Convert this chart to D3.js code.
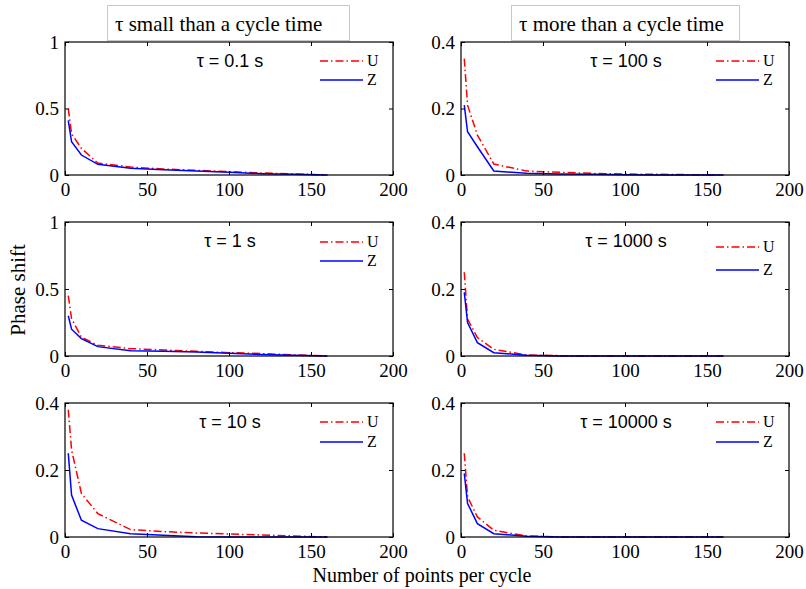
<!DOCTYPE html>
<html>
<head>
<meta charset="utf-8">
<script src="https://cdn.jsdelivr.net/npm/d3@7"></script>
<style>
  body { margin: 0; background: #fff; }
  svg { display: block; }
</style>
</head>
<body>
<div id="chart"></div>
<script>

  /**
   * Data
   */

  const pointsPerCycle = [2, 4, 10, 20, 40, 60, 80, 100, 120, 140, 160];

  const tauLabels = ['τ = 0.1 s', 'τ = 100 s', 'τ = 1 s', 'τ = 1000 s', 'τ = 10 s', 'τ = 10000 s'];
  const columnTitles = ['τ small than a cycle time', 'τ more than a cycle time'];
  const seriesNames = ['U', 'Z'];

  const uTau01    = [0.50, 0.31, 0.20, 0.09, 0.06, 0.045, 0.035, 0.025, 0.015, 0.008, 0];
  const zTau01    = [0.41, 0.25, 0.15, 0.08, 0.05, 0.04, 0.03, 0.02, 0.01, 0.005, 0];
  const uTau100   = [0.35, 0.21, 0.12, 0.033, 0.012, 0.008, 0.005, 0.003, 0.002, 0.001, 0];
  const zTau100   = [0.21, 0.13, 0.085, 0.012, 0.005, 0.003, 0.002, 0.001, 0, 0, 0];
  const uTau1     = [0.45, 0.28, 0.14, 0.08, 0.055, 0.045, 0.035, 0.025, 0.018, 0.008, 0];
  const zTau1     = [0.30, 0.20, 0.13, 0.07, 0.04, 0.035, 0.03, 0.02, 0.012, 0.005, 0];
  const uTau1000  = [0.25, 0.11, 0.055, 0.02, 0.003, 0.001, 0, 0, 0, 0, 0];
  const zTau1000  = [0.19, 0.10, 0.04, 0.01, 0.002, 0, 0, 0, 0, 0, 0];
  const uTau10    = [0.38, 0.26, 0.13, 0.07, 0.022, 0.016, 0.012, 0.009, 0.006, 0.003, 0];
  const zTau10    = [0.25, 0.125, 0.05, 0.025, 0.01, 0.005, 0.001, 0, 0, 0, 0];
  const uTau10000 = [0.25, 0.12, 0.06, 0.02, 0.003, 0, 0, 0, 0, 0, 0];
  const zTau10000 = [0.19, 0.10, 0.04, 0.01, 0.002, 0, 0, 0, 0, 0, 0];

  const xTicks = [0, 50, 100, 150, 200];
  const yTicksWide = [0, 0.5, 1];
  const yTicksNarrow = [0, 0.2, 0.4];

  // panels in reading order: row by row, left column first
  const panels = [
    { u: uTau01,    z: zTau01,    yMax: 1,   yTicks: yTicksWide },
    { u: uTau100,   z: zTau100,   yMax: 0.4, yTicks: yTicksNarrow },
    { u: uTau1,     z: zTau1,     yMax: 1,   yTicks: yTicksWide },
    { u: uTau1000,  z: zTau1000,  yMax: 0.4, yTicks: yTicksNarrow },
    { u: uTau10,    z: zTau10,    yMax: 0.4, yTicks: yTicksNarrow },
    { u: uTau10000, z: zTau10000, yMax: 0.4, yTicks: yTicksNarrow },
  ];


  /**
   * Layout
   */

  const width = 806;
  const height = 589;

  const serif = '"Liberation Serif", "Times New Roman", Times, serif';
  const sans = '"Liberation Sans", Arial, Helvetica, sans-serif';

  const columns = [[65, 393], [461, 789]];
  const rows = [[42, 175], [222, 356], [403, 537]];
  const legendRows = [[19, 38], [19, 38], [20, 39], [25, 48], [19, 39], [19, 39]];
  const titleBoxes = [[107, 349], [511, 739]];

  const colors = { U: '#ff0000', Z: '#0000ff' };
  const dashes = { U: '8,3,1.5,3', Z: null };

  const svg = d3.select('#chart')
                .append('svg')
                .attr('width', width)
                .attr('height', height);


  /**
   * Draws one panel: box, inward ticks, both series, legend and tau note.
   */
  function drawPanel(panel, i) {
    const [x0, x1] = columns[i % 2];
    const [y0, y1] = rows[Math.floor(i / 2)];

    const x = d3.scaleLinear().domain([0, 200]).range([x0, x1]);
    const y = d3.scaleLinear().domain([0, panel.yMax]).range([y1, y0]);

    const g = svg.append('g');

    // series
    const line = d3.line()
                   .x(d => x(d[0]))
                   .y(d => y(d[1]));

    seriesNames.forEach(name => {
      const values = name === 'U' ? panel.u : panel.z;
      g.append('path')
       .datum(pointsPerCycle.map((p, k) => [p, values[k]]))
       .attr('fill', 'none')
       .attr('stroke', colors[name])
       .attr('stroke-width', 1.5)
       .attr('stroke-dasharray', dashes[name])
       .attr('d', line);
    });

    // axes, ticks pointing inward on all four sides
    const tickLen = 4;
    const styleTicks = s => {
      s.select('.domain').remove();
      s.attr('font-family', serif).attr('font-size', 19);
      s.selectAll('.tick line').attr('stroke', '#000');
      s.selectAll('.tick text').attr('fill', '#000');
    };

    g.append('g')
     .attr('transform', `translate(0,${y1})`)
     .call(d3.axisBottom(x).tickValues(xTicks).tickSize(-tickLen).tickPadding(3))
     .call(styleTicks)
     .call(s => s.selectAll('text').attr('dy', '0.95em'));
    g.append('g')
     .attr('transform', `translate(0,${y0})`)
     .call(d3.axisTop(x).tickValues(xTicks).tickSize(-tickLen).tickFormat(''))
     .call(styleTicks);
    g.append('g')
     .attr('transform', `translate(${x0},0)`)
     .call(d3.axisLeft(y).tickValues(panel.yTicks).tickSize(-tickLen).tickPadding(6).tickFormat(d3.format('')))
     .call(styleTicks);
    g.append('g')
     .attr('transform', `translate(${x1},0)`)
     .call(d3.axisRight(y).tickValues(panel.yTicks).tickSize(-tickLen).tickFormat(''))
     .call(styleTicks);

    g.append('rect')
     .attr('x', x0)
     .attr('y', y0)
     .attr('width', x1 - x0)
     .attr('height', y1 - y0)
     .attr('fill', 'none')
     .attr('stroke', '#000')
     .attr('stroke-width', 1.2);

    // legend
    seriesNames.forEach((name, k) => {
      const ly = y0 + legendRows[i][k];
      g.append('line')
       .attr('x1', x1 - 73)
       .attr('x2', x1 - 30)
       .attr('y1', ly)
       .attr('y2', ly)
       .attr('stroke', colors[name])
       .attr('stroke-width', 1.5)
       .attr('stroke-dasharray', dashes[name]);
      g.append('text')
       .attr('font-family', serif)
       .attr('font-size', 16)
       .attr('x', x1 - 26)
       .attr('y', ly + 5)
       .text(name);
    });

    g.append('text')
     .attr('font-family', sans)
     .attr('font-size', 18)
     .attr('x', x0 + 165)
     .attr('y', y0 + 25)
     .attr('text-anchor', 'middle')
     .text(tauLabels[i]);
  }

  panels.forEach(drawPanel);


  // column titles in grey boxes
  titleBoxes.forEach(([bx0, bx1], c) => {
    svg.append('rect')
       .attr('x', bx0 + 0.5)
       .attr('y', 5.5)
       .attr('width', bx1 - bx0)
       .attr('height', 35)
       .attr('fill', '#fff')
       .attr('stroke', '#c8c8c8');
    svg.append('text')
       .attr('font-family', serif)
       .attr('font-size', 21)
       .attr('x', bx0 + 8)
       .attr('y', 31)
       .text(columnTitles[c]);
  });

  svg.append('text')
     .attr('font-family', serif)
     .attr('font-size', 20)
     .attr('x', 422)
     .attr('y', 582)
     .attr('text-anchor', 'middle')
     .text('Number of points per cycle');

  svg.append('text')
     .attr('font-family', serif)
     .attr('font-size', 21)
     .attr('transform', 'translate(25,290) rotate(-90)')
     .attr('text-anchor', 'middle')
     .text('Phase shift');

</script>
</body>
</html>
